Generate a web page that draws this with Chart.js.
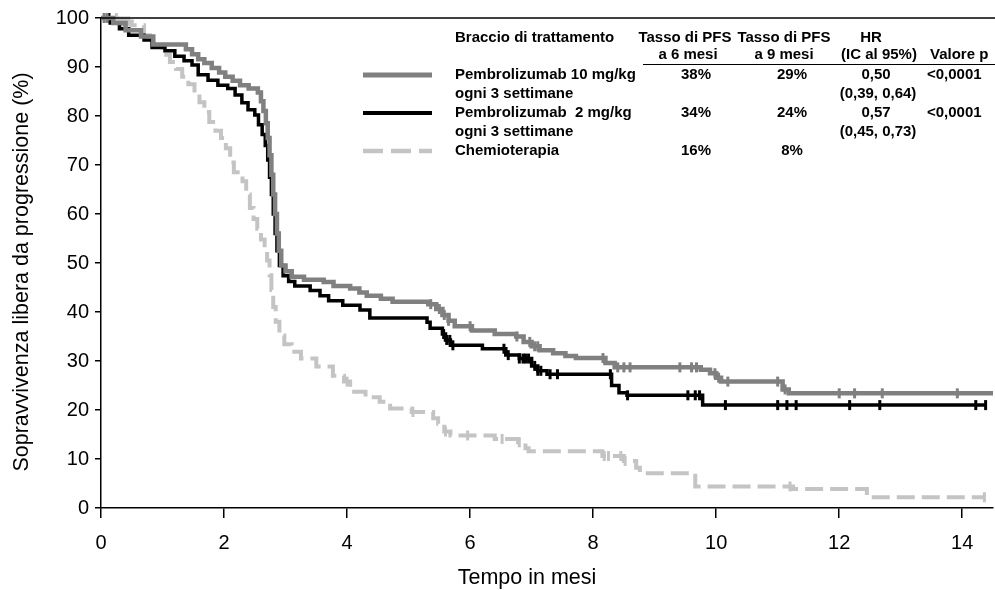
<!DOCTYPE html>
<html>
<head>
<meta charset="utf-8">
<script src="https://cdn.jsdelivr.net/npm/chart.js@4"></script>
<style>
	body { margin:0; background:#fff; }
	#wrap { position:relative; width:995px; height:590px; }
</style>
</head>
<body>
<div id="wrap"><canvas id="km" width="995" height="590"></canvas></div>
<script>
// Kaplan-Meier steps: time (mesi) of each drop and survival (%) after it
const p10Time = [0,0.2,0.4,0.65,0.85,1.38,1.48,1.58,1.68,1.8,1.92,2.02,2.14,2.26,2.4,2.55,2.6,2.64,2.68,2.71,2.74,2.77,2.8,2.83,2.86,2.89,2.93,3.0,3.1,3.3,3.62,3.78,4.05,4.2,4.32,4.55,4.74,5.32,5.45,5.55,5.65,5.75,6.03,6.4,6.75,6.87,7.0,7.13,7.35,7.55,7.72,8.2,8.35,9.75,9.9,10.0,10.08,11.08,11.18,14.5]
const p10Surv = [100,99,97.5,96.2,94.6,93.6,92.6,91.6,90.8,89.8,88.9,88,87.2,86.3,85.6,84.8,83,81,78.5,75.5,72,68,64,60,56,52.5,49.5,48.3,47.2,46.6,46.1,45.3,44.8,44,43.3,42.7,42.1,41.6,40.6,39.4,38.2,37.1,36.2,35.5,35.0,33.9,33,32.2,31.6,31,30.6,29.6,28.7,28.2,27.5,26.6,25.8,24.2,23.4,23.4]
const p10Cens = [0.05,0.1,5.36,5.5,5.58,5.65,6.0,6.76,6.97,7.05,7.1,8.16,8.4,8.5,8.6,9.41,9.6,9.68,9.98,10.04,10.19,11.0,11.12,12.0,12.25,12.7,13.92]

const p2Time = [0,0.15,0.3,0.45,0.7,0.83,1.04,1.2,1.35,1.48,1.58,1.74,1.9,2.06,2.18,2.29,2.39,2.5,2.56,2.62,2.67,2.71,2.74,2.77,2.8,2.83,2.86,2.9,2.96,3.05,3.15,3.4,3.56,3.7,3.93,4.21,4.37,5.3,5.35,5.55,5.6,5.68,6.2,6.58,6.8,7.0,7.1,7.25,8.3,8.42,8.55,9.78,14.38]
const p2Surv = [100,99,97.8,96.5,95.5,94,93.3,92.2,91.3,90.4,88.4,87.3,86.3,85.6,84.3,82.7,81.3,80.2,78.2,76.2,74,71,67.5,64,60,56,52.5,49.5,47.4,46.2,45.3,44.4,43.3,42.3,41.4,40.4,38.8,37.9,36.7,35.5,34.3,33.2,32.5,31.2,30.5,29,28,27.3,25,23.5,23,21,21]
const p2Cens = [0.13,5.57,5.62,5.67,5.72,6.55,6.62,6.8,6.86,6.9,6.95,7.05,7.1,7.15,7.3,7.42,8.28,8.56,9.54,9.66,9.73,10.15,11.0,11.15,11.3,12.17,12.66,14.22,14.38]

const chemoTime = [0,0.3,0.5,0.7,0.85,1.0,1.12,1.22,1.32,1.42,1.52,1.6,1.68,1.76,1.86,1.95,2.03,2.1,2.16,2.3,2.36,2.42,2.48,2.54,2.6,2.66,2.7,2.74,2.77,2.8,2.84,2.9,2.98,3.1,3.25,3.5,3.77,3.95,4.05,4.3,4.53,4.7,5.05,5.4,5.48,5.58,5.68,6.4,6.78,6.9,6.95,8.15,8.5,8.7,8.76,9.66,11.25,12.45,14.36]
const chemoSurv = [100,99.3,98.5,96.5,94.5,92.5,91,89.6,88,86.5,84.7,82.8,80.8,78.8,77,75.5,73.4,70.5,68.5,66.7,64,61.2,59,57,54.8,52.5,50.5,47.5,44.5,41,38,35.2,33.4,31.9,30.5,28.9,27,25.8,23.7,22.6,21.7,20.3,19.6,18.3,17.2,15.6,14.8,14.1,13.4,12.2,11.6,10.6,9.6,8.2,7.1,4.4,3.9,2.2,2.2]
const chemoCens = [0.25,0.3,0.35,0.4,0.45,4.0,5.07,5.6,5.96,6.52,6.8,8.18,8.25,8.45,8.52,11.2,14.36]

// tabella nel riquadro in alto a destra
const armNames = [['Pembrolizumab 10 mg/kg','ogni 3 settimane'],['Pembrolizumab  2 mg/kg','ogni 3 settimane'],['Chemioterapia']]
const pfs6 = ['38%','34%','16%']
const pfs9 = ['29%','24%','8%']
const hrVal = ['0,50','0,57','']
const hrCI = ['(0,39, 0,64)','(0,45, 0,73)','']
const pVal = ['<0,0001','<0,0001','']

const xTicks = [0,2,4,6,8,10,12,14]
const yTicks = [0,10,20,30,40,50,60,70,80,90,100]
const xTitle = 'Tempo in mesi'
const yTitle = 'Sopravvivenza libera da progressione (%)'

const FONT = '"Liberation Sans", Arial, sans-serif'
const armStyle = [
	{color:'#808080', width:4.5, dash:[]},
	{color:'#000000', width:3.5, dash:[]},
	{color:'#c4c4c4', width:4, dash:[18,7]},
]

const pts = (T, S) => T.map((t, i) => ({x:t, y:S[i]}))
const survAt = (T, S, t) => {
	let v = S[0]
	for (let i = 0; i < T.length; i++) if (T[i] <= t) v = S[i]
	return v
}
const cens = (T, S, C) => C.map(t => ({x:t, y:survAt(T, S, t)}))

const curve = (d, s, order) => ({
	data: d, borderColor: s.color, borderWidth: s.width, borderDash: s.dash,
	stepped: true, pointRadius: 0, fill: false, order: order, clip: false,
})
const marks = (d, s, order) => ({
	data: d, showLine: false, pointStyle: 'line', rotation: 90, pointRadius: 5,
	borderColor: s.color, backgroundColor: s.color, pointBorderWidth: 3, order: order, clip: false,
})

const tablePlugin = {
	id: 'kmTable',
	afterDraw(c) {
		const ctx = c.ctx, a = c.chartArea
		ctx.save()
		// bordo superiore del riquadro
		ctx.strokeStyle = '#000'
		ctx.lineWidth = 1.5
		ctx.beginPath(); ctx.moveTo(a.left, a.top); ctx.lineTo(c.width, a.top); ctx.stroke()

		ctx.fillStyle = '#000'
		ctx.textBaseline = 'middle'
		const txt = (s, x, y, al) => { ctx.textAlign = al || 'left'; ctx.fillText(s, x, y) }

		// titoli degli assi
		ctx.font = '21.5px ' + FONT
		txt(xTitle, 527, 578, 'center')
		ctx.save()
		ctx.translate(22, 272)
		ctx.rotate(-Math.PI / 2)
		txt(yTitle, 0, 0, 'center')
		ctx.restore()

		ctx.font = 'bold 15px ' + FONT
		txt('Braccio di trattamento', 455, 38)
		txt('Tasso di PFS', 685, 38, 'center')
		txt('Tasso di PFS', 784, 38, 'center')
		txt('HR', 871, 38, 'center')
		txt('a 6 mesi', 688, 55, 'center')
		txt('a 9 mesi', 784, 55, 'center')
		txt('(IC al 95%)', 879, 55, 'center')
		txt('Valore p', 930, 55)
		ctx.lineWidth = 1
		ctx.beginPath(); ctx.moveTo(643, 64.5); ctx.lineTo(995, 64.5); ctx.stroke()

		const rowY = [75, 113, 151]
		armNames.forEach((n, i) => {
			const y = rowY[i], s = armStyle[i]
			ctx.strokeStyle = s.color
			ctx.lineWidth = s.width + 0.5
			ctx.setLineDash(s.dash.length ? [20, 8] : [])
			ctx.beginPath(); ctx.moveTo(363, y); ctx.lineTo(432, y); ctx.stroke()
			ctx.setLineDash([])
			txt(n[0], 455, y)
			if (n[1]) txt(n[1], 455, y + 19)
			txt(pfs6[i], 696, y, 'center')
			txt(pfs9[i], 792, y, 'center')
			if (hrVal[i]) txt(hrVal[i], 876, y, 'center')
			if (hrCI[i]) txt(hrCI[i], 878, y + 19, 'center')
			if (pVal[i]) txt(pVal[i], 927, y)
		})
		ctx.restore()
	}
}

new Chart(document.getElementById('km'), {
	type: 'line',
	data: {
		datasets: [
			curve(pts(p10Time, p10Surv), armStyle[0], 1),
			marks(cens(p10Time, p10Surv, p10Cens), armStyle[0], 0),
			curve(pts(p2Time, p2Surv), armStyle[1], 3),
			marks(cens(p2Time, p2Surv, p2Cens), armStyle[1], 2),
			curve(pts(chemoTime, chemoSurv), armStyle[2], 5),
			marks(cens(chemoTime, chemoSurv, chemoCens), armStyle[2], 4),
		]
	},
	options: {
		responsive: false,
		animation: false,
		events: [],
		layout: { autoPadding: false, padding: { top: 18, right: 2, left: 0, bottom: 0 } },
		plugins: { legend: { display: false }, tooltip: { enabled: false } },
		scales: {
			x: {
				type: 'linear', min: 0, max: 14.5,
				afterFit: s => { s.height = 82 },
				afterBuildTicks: s => { s.ticks = xTicks.map(v => ({value: v})) },
				grid: { drawOnChartArea: false, drawTicks: true, tickLength: 10, color: '#000', tickColor: '#000', lineWidth: 1.5 },
				border: { color: '#000', width: 1.5 },
				ticks: { color: '#000', padding: 13, maxRotation: 0, font: { family: FONT, size: 20 } },
			},
			y: {
				min: 0, max: 100,
				afterFit: s => { s.width = 101 },
				afterBuildTicks: s => { s.ticks = []; for (let v = 0; v <= 100; v += 5) s.ticks.push({value: v}) },
				grid: { drawOnChartArea: false, drawTicks: true, tickLength: 6, color: '#000', tickColor: '#000', lineWidth: 1.5 },
				border: { color: '#000', width: 1.5 },
				ticks: { color: '#000', padding: 6, font: { family: FONT, size: 20 }, callback: v => yTicks.includes(v) ? String(v) : '' },
			}
		}
	},
	plugins: [tablePlugin]
})
</script>
</body>
</html>
